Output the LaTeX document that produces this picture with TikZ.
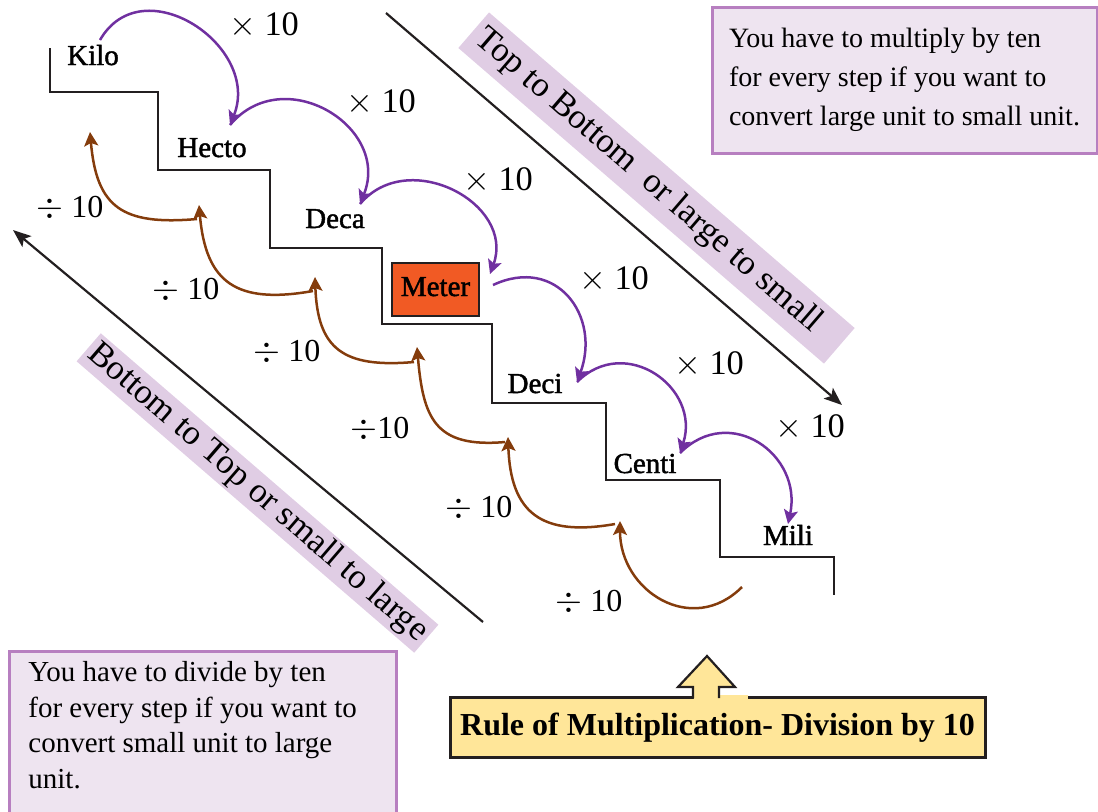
\documentclass[tikz,border=0pt]{standalone}
\usepackage{fontspec}
\setmainfont{Liberation Serif}
\newfontfamily\stepfont{Liberation Serif}[FakeBold=1.5]
\usetikzlibrary{arrows.meta}

\definecolor{mulpurple}{HTML}{7030A0}
\definecolor{divbrown}{HTML}{843C0C}
\definecolor{bannerlilac}{HTML}{E0CDE4}
\definecolor{notefill}{HTML}{EEE4F0}
\definecolor{noteline}{HTML}{B77FC0}
\definecolor{meterorange}{HTML}{F15A24}
\definecolor{ruleyellow}{HTML}{FFE699}
\definecolor{stairgray}{HTML}{231F20}

\begin{document}
\begin{tikzpicture}[
  x=0.5pt,y=0.5pt,
  stair/.style={draw=stairgray,line width=1.25pt},
  unit/.style={font=\stepfont\fontsize{14.5}{16}\selectfont,anchor=base,inner sep=0pt},
  mullabel/.style={font=\rmfamily\fontsize{17.2}{19}\selectfont,inner sep=0pt},
  divlabel/.style={font=\rmfamily\fontsize{16}{18}\selectfont,inner sep=0pt},
  mularrow/.style={draw=mulpurple,line width=1.25pt,-{Stealth[length=7pt,width=7pt,inset=1.5pt]},looseness=1.4},
  divarrow/.style={draw=divbrown,line width=1.25pt,-{Stealth[length=7pt,width=7pt,inset=1.5pt]},looseness=1.4},
  banner/.style={fill=bannerlilac,rotate=-40.8,inner sep=0pt,font=\rmfamily\fontsize{17.4}{19}\selectfont},
  note/.style={fill=notefill,draw=noteline,line width=1.5pt},
  guide/.style={draw=stairgray,line width=1.1pt,-{Stealth[length=9pt,width=7pt,inset=2pt]}}
]
\useasboundingbox (0,0) rectangle (1098,-811);

% banners and direction arrows
\node[banner,minimum width=241.5pt,minimum height=23.5pt] (topbanner) at (656.5,-188)
  {Top to Bottom~ or large to small\hspace*{11pt}};
\node[banner,minimum width=223pt,minimum height=18.5pt] (botbanner) at (257.5,-493)
  {Bottom to Top or small to large};
\coordinate (tbfrom) at (386,-13);
\coordinate (tbto) at (842,-405);
\coordinate (btfrom) at (483,-622);
\coordinate (btto) at (13,-230);
\draw[guide] (tbfrom)--(tbto);
\draw[guide] (btfrom)--(btto);

% staircase
\draw[stair] (50,-48) |- (158,-92) |- (270,-170) |- (382,-248) |- (492,-324)
  |- (606,-403) |- (720,-480) |- (834,-557) -- (834,-595);

\node[unit] (kilo) at (93,-65) {Kilo};
\node[unit] (hecto) at (212,-157) {Hecto};
\node[unit] (deca) at (335,-228) {Deca};
\node[draw=stairgray,line width=1.2pt,fill=meterorange,minimum width=43.5pt,
  minimum height=26.5pt,text depth=0.3em,font=\stepfont\fontsize{14.5}{16}\selectfont]
  (meter) at (435.5,-289.5) {Meter};
\node[unit] (deci) at (535,-393) {Deci};
\node[unit] (centi) at (645,-473) {Centi};
\node[unit] (mili) at (788,-545) {Mili};

% multiply steps
\coordinate (mul0) at (100,-40);
\coordinate (mul1) at (230,-125);
\coordinate (mul2) at (360,-204);
\coordinate (mul3) at (490,-274);
\coordinate (mul4) at (577,-382);
\coordinate (mul5) at (680,-453);
\coordinate (mul6) at (788,-524);
\draw[mularrow] (mul0) to[out=60,in=68] (mul1);
\draw[mularrow] (mul1) to[out=50,in=68] (mul2);
\draw[mularrow] (mul2) to[out=50,in=70,looseness=1.3] (mul3);
\draw[mularrow] ([shift={(3,-11)}]mul3) to[out=25,in=70] (mul4);
\draw[mularrow] (mul4) to[out=45,in=72] (mul5);
\draw[mularrow] (mul5) to[out=45,in=78] (mul6);
\node[mullabel] (times1) at (264,-25) {$\times$ 10};
\node[mullabel] (times2) at (381,-102) {$\times$ 10};
\node[mullabel] (times3) at (498,-180) {$\times$ 10};
\node[mullabel] (times4) at (614,-279) {$\times$ 10};
\node[mullabel] (times5) at (709,-364) {$\times$ 10};
\node[mullabel] (times6) at (810,-427) {$\times$ 10};

% divide steps
\coordinate (div0) at (90,-132);
\coordinate (div1) at (199,-205);
\coordinate (div2) at (315,-277);
\coordinate (div3) at (417,-347);
\coordinate (div4) at (508,-437);
\coordinate (div5) at (620,-521);
\coordinate (div6) at (742,-587);
\draw[divarrow] ([shift={(-2,-14)}]div1) to[out=185,in=-85] (div0);
\draw[divarrow] ([shift={(-2,-14)}]div2) to[out=190,in=-85] (div1);
\draw[divarrow] ([shift={(-3,-15)}]div3) to[out=185,in=-88] (div2);
\draw[divarrow] ([shift={(-3,-5)}]div4) to[out=185,in=-85] (div3);
\draw[divarrow] ([shift={(-5,-3)}]div5) to[out=190,in=-88] (div4);
\draw[divarrow] (div6) to[out=225,in=-90,looseness=1.3] (div5);
\node[divlabel] (over1) at (70,-208) {$\div$ 10};
\node[divlabel] (over2) at (186,-290) {$\div$ 10};
\node[divlabel] (over3) at (287,-352) {$\div$ 10};
\node[divlabel] (over4) at (380,-429) {$\div$10};
\node[divlabel] (over5) at (479,-508) {$\div$ 10};
\node[divlabel] (over6) at (589,-602) {$\div$ 10};

% notes
\node[note,minimum width=192.5pt,minimum height=73pt,align=left,
  font=\rmfamily\fontsize{14}{19.5}\selectfont] (mulnote) at (904.5,-80)
  {You have to multiply by ten\\for every step if you want to\\convert large unit to small unit.};
\node[note,anchor=north west,minimum width=193.5pt,minimum height=90pt] (divnote) at (8,-650) {};
\node[anchor=north west,align=left,inner sep=0pt,font=\rmfamily\fontsize{14.5}{17.8}\selectfont]
  (divtext) at ([shift={(20,-11)}]divnote.north west)
  {You have to divide by ten\\for every step if you want to\\convert small unit to large\\unit.};

% rule box with block arrow
\node[draw=stairgray,line width=1.5pt,fill=ruleyellow,minimum width=267.5pt,minimum height=30pt,
  font=\rmfamily\bfseries\fontsize{16}{18}\selectfont] (rule) at (717.5,-727.5)
  {Rule of Multiplication- Division by 10};
\fill[ruleyellow] (694,-695) rectangle (748,-701);
\draw[fill=ruleyellow,draw=stairgray,line width=1.1pt] (693,-698) -- (693,-687) -- (678,-687)
  -- (707,-656) -- (735,-687) -- (719,-687) -- (719,-698);
\end{tikzpicture}
\end{document}
